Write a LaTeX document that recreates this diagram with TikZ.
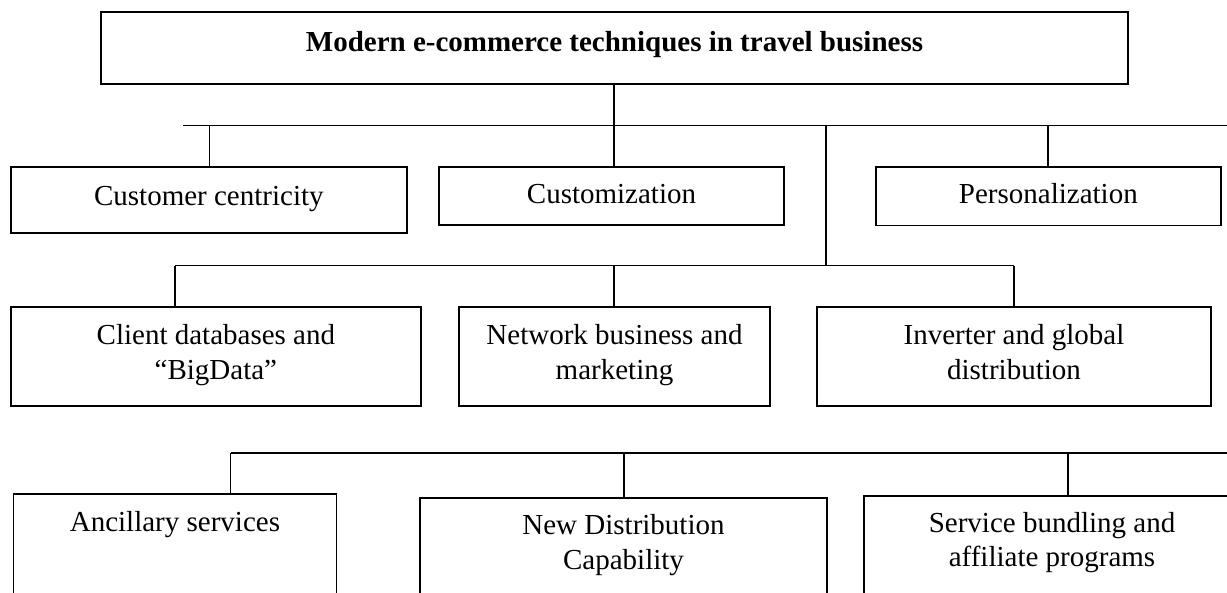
\documentclass[tikz,border=0pt]{standalone}
\usepackage{fontspec}
\setmainfont{Liberation Serif}
\newcommand{\twolines}[2]{\begin{tabular}[t]{@{}c@{}}#1\\#2\end{tabular}}
\begin{document}
\begin{tikzpicture}[x=1pt,y=-1pt,
  box/.style={draw, line width=1.8pt, inner sep=0pt, rectangle},
  conn/.style={line width=1.6pt},
  lbl/.style={anchor=base, inner sep=0pt, font=\fontsize{29}{34.3}\selectfont}]
\useasboundingbox (0,0) rectangle (1227,593);
\clip (0,0) rectangle (1227,593);
% boxes
\node[box, minimum width=1027pt, minimum height=72pt] (title) at (614.5,48.3) {};
\node[box, minimum width=396.3pt, minimum height=65.4pt] (cc) at (208.85,200) {};
\node[box, minimum width=345pt, minimum height=58.3pt] (cust) at (611.5,195.85) {};
\node[box, minimum width=344.7pt, minimum height=58.8pt] (pers) at (1048.35,196.1) {};
\node[box, minimum width=410.3pt, minimum height=99.3pt] (client) at (215.85,356.35) {};
\node[box, minimum width=311pt, minimum height=99.3pt] (net) at (614.5,356.35) {};
\node[box, minimum width=394pt, minimum height=99.3pt] (inv) at (1014,356.35) {};
\node[box, minimum width=323.1pt, minimum height=116.3pt] (anc) at (174.95,551.85) {};
\node[box, minimum width=407pt, minimum height=112.3pt] (ndc) at (623.5,553.85) {};
\node[box, minimum width=376pt, minimum height=114.3pt] (serv) at (1052,552.85) {};
% texts
\node[lbl] (titlet) at (614.5,51.7) {\bfseries Modern e-commerce techniques in travel business};
\node[lbl] (cct) at (208.85,205.7) {Customer centricity};
\node[lbl] (custt) at (611.5,204) {Customization};
\node[lbl] (perst) at (1048.35,204) {Personalization};
\node[lbl] (clientt) at (215.85,345) {\twolines{Client databases and}{“BigData”}};
\node[lbl] (nett) at (614.5,345) {\twolines{Network business and}{marketing}};
\node[lbl] (invt) at (1014,345) {\twolines{Inverter and global}{distribution}};
\node[lbl] (anct) at (174.95,531.7) {Ancillary services};
\node[lbl] (ndct) at (623.5,535) {\twolines{New Distribution}{Capability}};
\node[lbl] (servt) at (1052,532.5) {\twolines{Service bundling and}{affiliate programs}};
% bus coordinates
\coordinate (b1L) at (183,125.7);
\coordinate (b1R) at (1227,125.7);
\coordinate (j1) at (614,125.7);
\coordinate (j2) at (209.6,125.7);
\coordinate (j3) at (1048,125.7);
\coordinate (j4) at (826,125.7);
\coordinate (b2L) at (175,265.7);
\coordinate (b2R) at (1014,265.7);
\coordinate (k2) at (614,265.7);
\coordinate (k4) at (826,265.7);
\coordinate (b3L) at (230.5,453.3);
\coordinate (b3R) at (1227,453.3);
\coordinate (m2) at (624,453.3);
\coordinate (m3) at (1068,453.3);
% connectors
\draw[conn] (b1L) -- (b1R);
\draw[conn] (title.south -| j1) -- (cust.north -| j1);
\draw[conn] (j2) -- (cc.north -| j2);
\draw[conn] (j3) -- (pers.north -| j3);
\draw[conn] (j4) -- (k4);
\draw[conn] (b2L) -- (b2R);
\draw[conn] (b2L) -- (client.north -| b2L);
\draw[conn] (k2) -- (net.north -| k2);
\draw[conn] (b2R) -- (inv.north -| b2R);
\draw[conn] (b3L) -- (b3R);
\draw[conn] (b3L) -- (anc.north -| b3L);
\draw[conn] (m2) -- (ndc.north -| m2);
\draw[conn] (m3) -- (serv.north -| m3);
\end{tikzpicture}
\end{document}
